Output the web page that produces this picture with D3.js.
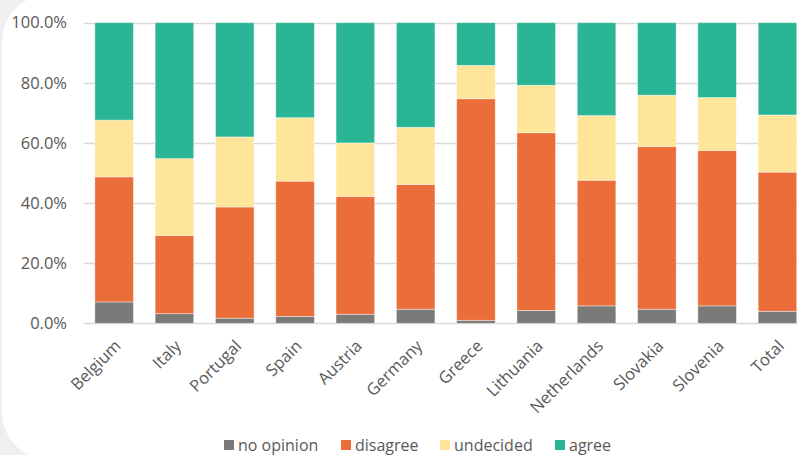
<!DOCTYPE html>
<html>
<head>
<meta charset="utf-8">
<script src="https://cdn.jsdelivr.net/npm/d3@7"></script>
<style>
  html, body { margin: 0; padding: 0; background: #efefef; }
  svg { display: block; font-family: "Open Sans", sans-serif; }
</style>
</head>
<body>
<svg id="chart" width="797" height="455"></svg>
<script>
const categories = ["Belgium","Italy","Portugal","Spain","Austria","Germany","Greece","Lithuania","Netherlands","Slovakia","Slovenia","Total"];
const seriesNames = ["no opinion","disagree","undecided","agree"];
const noOpinion = [7.1, 3.2, 1.7, 2.3, 3.0, 4.7, 1.0, 4.3, 5.8, 4.7, 5.8, 4.0];
const disagree  = [41.6, 26.0, 37.0, 45.0, 39.2, 41.5, 73.7, 59.1, 41.8, 54.1, 51.7, 46.3];
const undecided = [18.9, 25.6, 23.3, 21.1, 17.8, 19.0, 11.1, 15.8, 21.5, 17.1, 17.6, 19.0];
const agree     = [32.4, 45.2, 38.0, 31.6, 40.0, 34.8, 14.2, 20.8, 30.9, 24.1, 24.9, 30.7];
const yTicks = [0, 0.2, 0.4, 0.6, 0.8, 1.0];
const colors = ["#7a7a78", "#eb6e3a", "#fee599", "#2bb597"];

const svg = d3.select("#chart");

// white rounded panel
svg.append("rect")
  .attr("x", 2).attr("y", -6).attr("width", 860).attr("height", 466)
  .attr("rx", 48).attr("ry", 48)
  .attr("fill", "#ffffff");

const rows = categories.map((c, i) => {
  const vals = [noOpinion[i], disagree[i], undecided[i], agree[i]];
  const tot = d3.sum(vals);
  const r = { cat: c };
  seriesNames.forEach((s, k) => r[s] = vals[k] / tot);
  return r;
});

const x = d3.scaleBand().domain(categories).range([84, 84 + 12 * 60.3])
  .paddingInner(0.36).paddingOuter(0.18);
const y = d3.scaleLinear().domain([0, 1]).range([323.3, 22.7]);

// gridlines
svg.append("g").selectAll("line").data(yTicks).join("line")
  .attr("x1", 84).attr("x2", 810)
  .attr("y1", d => Math.round(y(d)) + 0.5).attr("y2", d => Math.round(y(d)) + 0.5)
  .attr("stroke", "#d9d9d9").attr("stroke-width", 1.3);

// y axis labels
const yAxis = d3.axisLeft(y).tickValues(yTicks).tickFormat(d3.format(".1%")).tickSize(0).tickPadding(0);
const yg = svg.append("g").attr("transform", "translate(67,0)").call(yAxis);
yg.select(".domain").remove();
yg.selectAll("text").attr("fill", "#595959").attr("font-size", 16.5).attr("font-weight", 500)
  .attr("font-family", "'Open Sans', sans-serif");

// stacked bars
const stack = d3.stack().keys(seriesNames)(rows);
svg.append("g").selectAll("g").data(stack).join("g")
  .attr("fill", (d, i) => colors[i])
  .selectAll("rect").data(d => d).join("rect")
  .attr("x", d => x(d.data.cat))
  .attr("width", x.bandwidth())
  .attr("y", d => y(d[1]))
  .attr("height", d => y(d[0]) - y(d[1]))
  .attr("stroke", "rgba(255,255,255,0.5)").attr("stroke-width", 0.8);

// x axis labels
const xAxis = d3.axisBottom(x).tickSize(0).tickPadding(0);
const xg = svg.append("g").attr("transform", "translate(0,323.3)").call(xAxis);
xg.select(".domain").remove();
xg.selectAll(".tick text")
  .attr("fill", "#595959").attr("font-size", 16.5)
  .attr("font-family", "'Open Sans', sans-serif")
  .attr("text-anchor", "end")
  .attr("y", 0).attr("dy", "0.75em")
  .attr("transform", "translate(-1,15) rotate(-45)");

// legend
const legendX = [224, 341, 440, 555];
const lg = svg.append("g").selectAll("g").data(seriesNames).join("g")
  .attr("transform", (d, i) => `translate(${legendX[i]},440)`);
lg.append("rect").attr("width", 10).attr("height", 10).attr("fill", (d, i) => colors[i]);
lg.append("text").attr("x", 14).attr("y", 10.5)
  .attr("fill", "#595959").attr("font-size", 16)
  .text(d => d);
</script>
</body>
</html>
